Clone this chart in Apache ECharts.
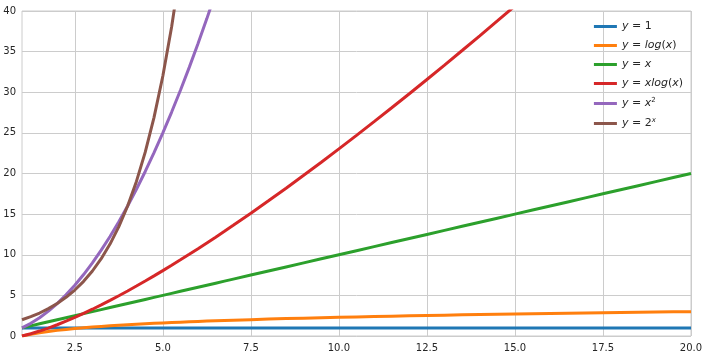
<!DOCTYPE html>
<html>
<head>
<meta charset="utf-8">
<script src="https://cdn.jsdelivr.net/npm/echarts@6/dist/echarts.min.js"></script>
<style>html,body{margin:0;padding:0;background:#fff}#c{width:708px;height:356px}</style>
</head>
<body>
<div id="c"></div>
<script>
var xs = [1,1.25,1.5,1.75,2,2.25,2.5,2.75,3,3.25,3.5,3.75,4,4.25,4.5,4.75,5,5.25,5.5,5.75,6,6.25,6.5,6.75,7,
  7.5,8,8.5,9,9.5,10,10.5,11,11.5,12,12.5,13,13.5,14,14.5,15,15.5,16,16.5,17,17.5,18,18.5,19,19.5,20];
var yOne = [1,1,1,1,1,1,1,1,1,1,1,1,1,1,1,1,1,1,1,1,1,1,1,1,1,
  1,1,1,1,1,1,1,1,1,1,1,1,1,1,1,1,1,1,1,1,1,1,1,1,1,1];
var yLog = [0,0.223,0.405,0.560,0.693,0.811,0.916,1.012,1.099,1.179,1.253,1.322,1.386,1.447,1.504,1.558,1.609,1.658,1.705,1.749,1.792,1.833,1.872,1.910,1.946,
  2.015,2.079,2.140,2.197,2.251,2.303,2.351,2.398,2.442,2.485,2.526,2.565,2.603,2.639,2.674,2.708,2.741,2.773,2.803,2.833,2.862,2.890,2.918,2.944,2.970,2.996];
var yLin = [1,1.25,1.5,1.75,2,2.25,2.5,2.75,3,3.25,3.5,3.75,4,4.25,4.5,4.75,5,5.25,5.5,5.75,6,6.25,6.5,6.75,7,
  7.5,8,8.5,9,9.5,10,10.5,11,11.5,12,12.5,13,13.5,14,14.5,15,15.5,16,16.5,17,17.5,18,18.5,19,19.5,20];
var yXLog = [0,0.279,0.608,0.979,1.386,1.825,2.291,2.782,3.296,3.831,4.385,4.957,5.545,6.149,6.768,7.401,8.047,8.705,9.376,10.058,10.751,11.454,12.167,12.890,13.621,
  15.112,16.636,18.190,19.775,21.387,23.026,24.689,26.377,28.087,29.819,31.572,33.344,35.137,36.947,38.776,40.621,42.48];
var ySq = [1,1.5625,2.25,3.0625,4,5.0625,6.25,7.5625,9,10.5625,12.25,14.0625,16,18.0625,20.25,22.5625,25,27.5625,30.25,33.0625,36,39.0625,42.25];
var yExp = [2,2.378,2.828,3.364,4,4.757,5.657,6.727,8,9.514,11.314,13.454,16,19.027,22.627,26.909,32,38.055,45.255];
var xTicks = [2.5,5,7.5,10,12.5,15,17.5,20];
var names = ['y=1','y=log(x)','y=x','y=xlog(x)','y=x2','y=2x'];
var colors = ['#1f77b4','#ff7f0e','#2ca02c','#d62728','#9467bd','#8c564b'];
var seriesVals = [yOne,yLog,yLin,yXLog,ySq,yExp];

function pairs(v){var out=[];for(var i=0;i<v.length;i++){out.push([xs[i],v[i]]);}return out;}

var legendText = {
  'y=1':'{i|y} = 1',
  'y=log(x)':'{i|y} = {i|log}({i|x})',
  'y=x':'{i|y} = {i|x}',
  'y=xlog(x)':'{i|y} = {i|xlog}({i|x})',
  'y=x2':'{i|y} = {i|x}{s|2}',
  'y=2x':'{i|y} = 2{si|x}'
};

var chart = echarts.init(document.getElementById('c'), null, {renderer:'canvas'});
chart.setOption({
  animation:false,
  color: colors,
  grid:{left:22,right:17,top:11,bottom:20,show:true,borderColor:'#cccccc',borderWidth:1},
  legend:{
    orient:'vertical', right:20, top:16, itemWidth:23, itemHeight:3, itemGap:8,
    icon:'rect',
    data:names,
    formatter:function(n){return legendText[n];},
    textStyle:{fontSize:11,color:'#262626',fontFamily:'DejaVu Sans',
      rich:{
        i:{fontStyle:'italic',fontSize:11,color:'#262626',fontFamily:'DejaVu Sans'},
        s:{fontStyle:'normal',fontSize:7,color:'#262626',verticalAlign:'top',padding:[0,0,6,0],fontFamily:'DejaVu Sans'},
        si:{fontStyle:'italic',fontSize:7,color:'#262626',verticalAlign:'top',padding:[0,0,6,0],fontFamily:'DejaVu Sans'}
      }
    }
  },
  xAxis:{
    type:'value', min:1, max:20,
    axisLine:{show:false}, axisTick:{show:false, customValues:xTicks},
    axisLabel:{customValues:xTicks, fontSize:10, color:'#262626', fontFamily:'DejaVu Sans', margin:7,
      formatter:function(v){return v.toFixed(1);}},
    splitLine:{show:true, lineStyle:{color:'#cccccc',width:1}}
  },
  yAxis:{
    type:'value', min:0, max:40, interval:5,
    axisLine:{show:false}, axisTick:{show:false},
    axisLabel:{fontSize:10, color:'#262626', fontFamily:'DejaVu Sans', margin:6},
    splitLine:{show:true, lineStyle:{color:'#cccccc',width:1}}
  },
  series: seriesVals.map(function(v,i){
    return {name:names[i], type:'line', data:pairs(v), showSymbol:false, symbol:'none',
      clip:true, lineStyle:{width:3, color:colors[i]}, itemStyle:{color:colors[i]}};
  })
});
</script>
</body>
</html>
